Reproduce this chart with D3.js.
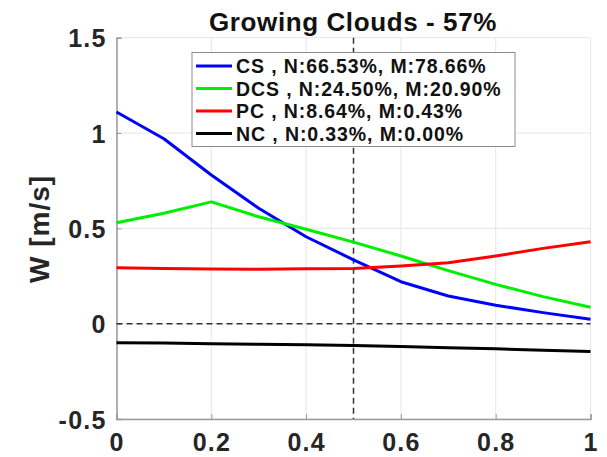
<!DOCTYPE html>
<html>
<head>
<meta charset="utf-8">
<script src="https://cdn.jsdelivr.net/npm/d3@7"></script>
<style>
  html, body { margin: 0; padding: 0; background: #fff; }
  svg { display: block; font-family: "Liberation Sans", Arial, Helvetica, sans-serif; font-weight: bold; }
</style>
</head>
<body>
<svg id="chart" width="607" height="457"></svg>
<script>
// Normalised position along the cloud lifetime
const xValues = [0, 0.1, 0.2, 0.3, 0.4, 0.5, 0.6, 0.7, 0.8, 0.9, 1.0];

// Mean vertical velocity W [m/s] for each class
const csValues  = [1.11, 0.97, 0.78, 0.605, 0.456, 0.335, 0.22, 0.145, 0.097, 0.058, 0.023];
const dcsValues = [0.529, 0.579, 0.639, 0.561, 0.495, 0.428, 0.355, 0.278, 0.206, 0.142, 0.086];
const pcValues  = [0.293, 0.290, 0.287, 0.285, 0.288, 0.289, 0.302, 0.320, 0.355, 0.395, 0.430];
const ncValues  = [-0.100, -0.102, -0.105, -0.108, -0.111, -0.115, -0.120, -0.126, -0.132, -0.139, -0.146];

const seriesNames  = ["CS", "DCS", "PC", "NC"];
const seriesLabels = [
  "CS , N:66.53%, M:78.66%",
  "DCS , N:24.50%, M:20.90%",
  "PC , N:8.64%, M:0.43%",
  "NC , N:0.33%, M:0.00%"
];
const seriesColors = ["#0000ff", "#00ee00", "#ff0000", "#000000"];

const xTicks = [0, 0.2, 0.4, 0.6, 0.8, 1];
const yTicks = [-0.5, 0, 0.5, 1, 1.5];
const xTickLabels = ["0", "0.2", "0.4", "0.6", "0.8", "1"];
const yTickLabels = ["-0.5", "0", "0.5", "1", "1.5"];

const titleText = "Growing Clouds - 57%";
const yLabelText = "W [m/s]";
const splitX = 0.5;

const svg = d3.select("#chart");
const plot = { left: 116.5, right: 590.5, top: 37.7, bottom: 419 };

const x = d3.scaleLinear().domain([0, 1]).range([plot.left, plot.right]);
const y = d3.scaleLinear().domain([-0.5, 1.5]).range([plot.bottom, plot.top]);

// grid
const grid = svg.append("g");
grid.selectAll("line.gx").data(xTicks).enter().append("line")
  .attr("x1", d => x(d)).attr("x2", d => x(d))
  .attr("y1", plot.top).attr("y2", plot.bottom)
  .attr("stroke", "#e6e6e6").attr("stroke-width", 1);
grid.selectAll("line.gy").data(yTicks).enter().append("line")
  .attr("x1", plot.left).attr("x2", plot.right)
  .attr("y1", d => y(d)).attr("y2", d => y(d))
  .attr("stroke", "#e6e6e6").attr("stroke-width", 1);

// axes
const xAxis = d3.axisBottom(x).tickValues(xTicks).tickSize(-5).tickPadding(14)
  .tickFormat((d, i) => xTickLabels[i]);
const yAxis = d3.axisLeft(y).tickValues(yTicks).tickSize(-5).tickPadding(10)
  .tickFormat((d, i) => yTickLabels[i]);

const gx = svg.append("g").attr("transform", `translate(0,${plot.bottom})`).call(xAxis);
const gy = svg.append("g").attr("transform", `translate(${plot.left},0)`).call(yAxis);
[gx, gy].forEach(g => {
  g.select(".domain").attr("stroke", "#9a9a9a").attr("stroke-width", 1.5);
  g.selectAll(".tick line").attr("stroke", "#9a9a9a");
  g.selectAll(".tick text")
    .attr("fill", "#262626")
    .style("font-size", "25px")
    .style("font-weight", "bold")
    .style("letter-spacing", "1.2px")
    .style("font-family", "'Liberation Sans', Arial, sans-serif");
});
gx.selectAll(".tick text").attr("dy", "0.71em");
gy.selectAll(".tick text").attr("dy", "0.36em");

// reference lines
svg.append("line")
  .attr("x1", plot.left).attr("x2", plot.right)
  .attr("y1", y(0)).attr("y2", y(0))
  .attr("stroke", "#333").attr("stroke-width", 1.5).attr("stroke-dasharray", "6,4");
svg.append("line")
  .attr("x1", x(splitX)).attr("x2", x(splitX))
  .attr("y1", plot.top).attr("y2", plot.bottom)
  .attr("stroke", "#333").attr("stroke-width", 1.5).attr("stroke-dasharray", "6,4");

// series
const allSeries = [csValues, dcsValues, pcValues, ncValues];
const line = d3.line().x((d, i) => x(xValues[i])).y(d => y(d));
svg.append("g").selectAll("path").data(allSeries).enter().append("path")
  .attr("d", d => line(d))
  .attr("fill", "none")
  .attr("stroke", (d, i) => seriesColors[i])
  .attr("stroke-width", 3)
  .attr("stroke-linejoin", "round");

// legend
const legend = svg.append("g");
legend.append("rect")
  .attr("x", 192).attr("y", 52.5).attr("width", 323).attr("height", 94)
  .attr("fill", "#fff").attr("stroke", "#8c8c8c").attr("stroke-width", 1);
const rows = legend.selectAll("g.row").data(seriesNames).enter().append("g")
  .attr("transform", (d, i) => `translate(0,${66 + i * 22.5})`);
rows.append("line")
  .attr("x1", 196).attr("x2", 232).attr("y1", 0).attr("y2", 0)
  .attr("stroke", (d, i) => seriesColors[i]).attr("stroke-width", 3);
rows.append("text")
  .attr("x", 236).attr("y", 0).attr("dy", "0.36em")
  .attr("fill", "#111")
  .style("font-size", "19.5px")
  .style("letter-spacing", "0.9px")
  .text((d, i) => seriesLabels[i]);

// title
svg.append("text")
  .attr("x", (206 + 500) / 2).attr("y", 31)
  .attr("text-anchor", "middle")
  .attr("fill", "#111")
  .style("font-size", "26px")
  .style("letter-spacing", "0.6px")
  .text(titleText);

// y label
svg.append("text")
  .attr("transform", `translate(49,229) rotate(-90)`)
  .attr("text-anchor", "middle")
  .attr("fill", "#262626")
  .style("font-size", "28px")
  .style("letter-spacing", "1px")
  .text(yLabelText);
</script>
</body>
</html>
